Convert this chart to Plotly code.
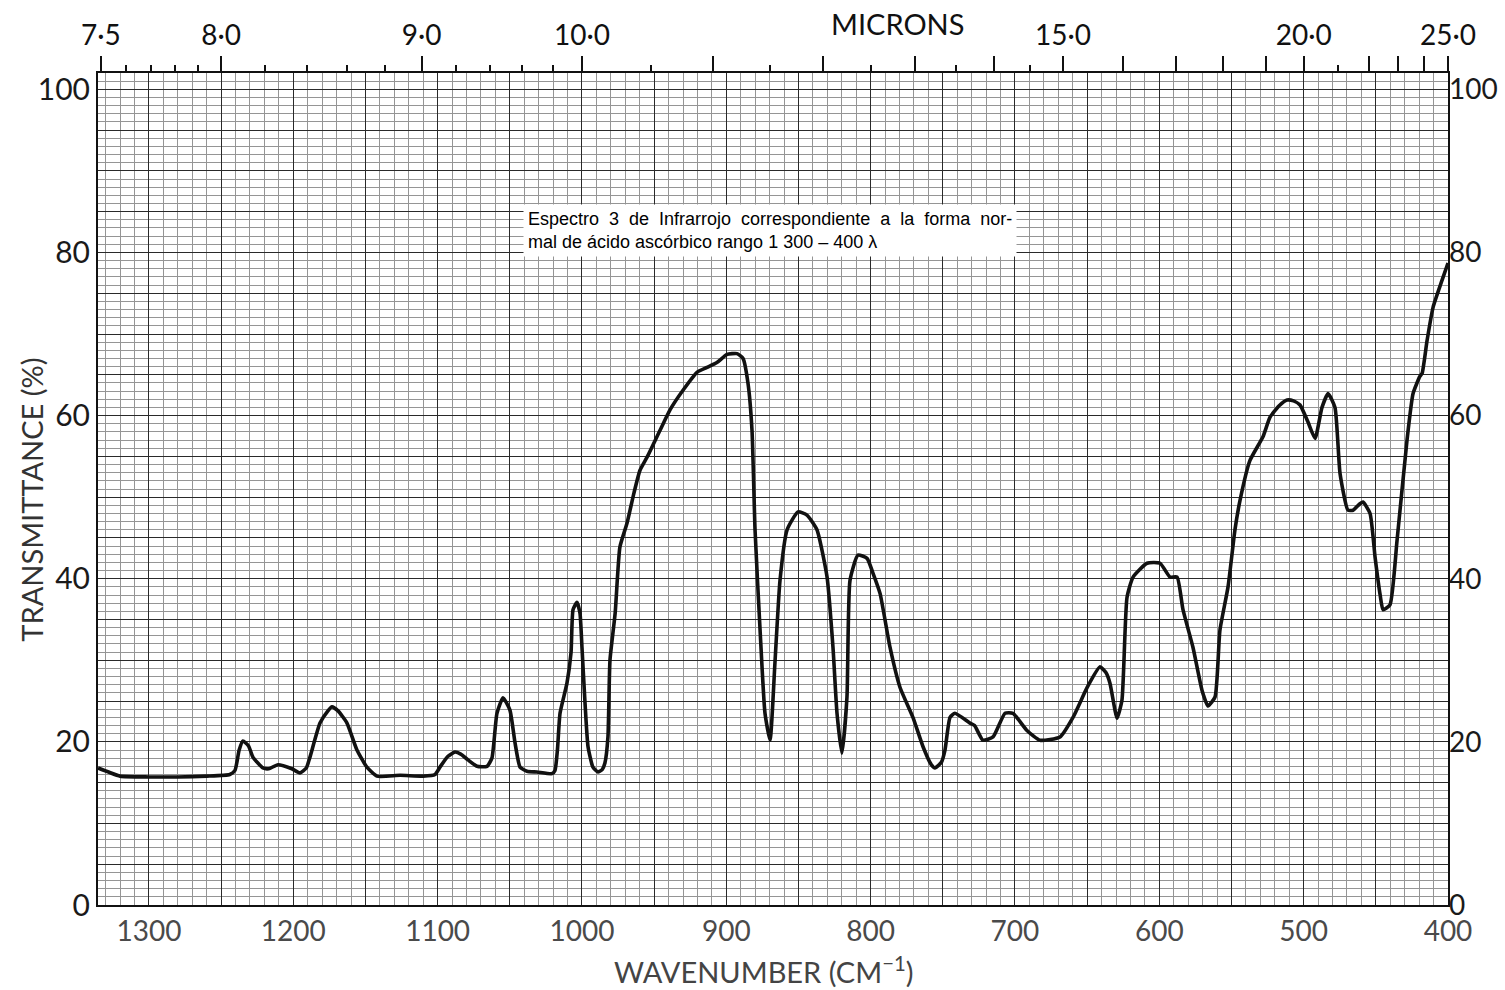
import plotly.graph_objects as go

# ---- data ----
wavenumber = [1335.3, 1328, 1320, 1300, 1280, 1260, 1244, 1240.4, 1237.5, 1234.9, 1231, 1227.9,
              1221, 1217, 1210.6, 1201, 1195.4, 1191, 1188.5, 1181.5, 1176, 1173.2, 1169, 1162.8,
              1155.9, 1149, 1142, 1126, 1110, 1101.8, 1098.4, 1093, 1088, 1084, 1079, 1072.7,
              1065.8, 1062.4, 1058.9, 1054.7, 1049.9, 1046.4, 1042.9, 1038.1, 1031.2, 1020.8,
              1018.7, 1017, 1015.2, 1010.4, 1007.6, 1006.2, 1003.5, 1001.4, 1000, 997.9, 995.8,
              992.4, 988.9, 986, 984.1, 982, 980.6, 977, 973.7, 968.8, 964, 959.8, 954.9, 945.9,
              939, 930, 920.3, 913.4, 906.5, 899.5, 892.6, 888.4, 885, 882.2, 880.1, 876.6, 873.2,
              869.7, 866.3, 862.8, 857.9, 850.3, 844.1, 837.2, 830.2, 826.1, 823.3, 819.9, 816.4,
              814.3, 808.8, 802.5, 798.4, 793.5, 786.6, 779.7, 770.7, 763.7, 758, 755.4, 751,
              748.5, 745, 741.6, 731.2, 728, 722.2, 715.2, 706.9, 701.4, 691.7, 682.7, 668.8,
              659.8, 649.9, 641.1, 637, 634.2, 629.3, 625.9, 622.4, 618.2, 608.5, 599.5, 592.6,
              587.7, 583.6, 576.7, 570.4, 566.3, 561.4, 558.0, 552.4, 547.6, 544.1, 537.2, 528.2,
              523.3, 517, 511.5, 507, 502.5, 497, 492.1, 487.3, 483.1, 478.3, 474.8, 469.3, 465.8,
              461, 458.9, 454, 450.5, 447, 445, 440.2, 435.3, 428.4, 424.2, 419.5, 417.9, 414.5,
              410.3, 404.1, 400]
transmittance = [16.8, 16.3, 15.8, 15.7, 15.7, 15.8, 16.0, 16.5, 19.0, 20.1, 19.5, 18.1,
                 16.8, 16.7, 17.2, 16.7, 16.2, 16.8, 18.1, 22.3, 23.8, 24.3, 23.8, 22.3,
                 19.0, 16.9, 15.8, 15.9, 15.8, 16.0, 16.9, 18.2, 18.75, 18.5, 17.8, 17.0,
                 17.0, 18.0, 23.5, 25.4, 23.9, 19.9, 16.9, 16.4, 16.3, 16.1,
                 16.5, 19.0, 23.5, 27.2, 30.9, 36.2, 37.1, 35.8, 31.6, 24.8, 19.4,
                 16.9, 16.3, 16.6, 17.4, 20.6, 30.0, 35.8, 43.9, 46.8, 50.5, 53.3, 54.9, 58.2,
                 60.7, 63.1, 65.3, 65.9, 66.5, 67.5, 67.6, 67.0, 64.0, 58.2, 46.0, 33.7, 23.5,
                 20.2, 29.7, 39.8, 46.0, 48.2, 47.8, 46.0, 40.2, 31.6, 23.5, 18.6, 25.5,
                 39.8, 42.9, 42.5, 40.7, 38.2, 31.6, 26.7, 23.0, 19.4, 17.2, 16.8, 17.5,
                 19.0, 23.0, 23.5, 22.3, 22.0, 20.2, 20.6, 23.5, 23.5, 21.4, 20.2, 20.6,
                 23.0, 26.7, 29.2, 28.5, 27.2, 22.9, 25.1, 37.7, 40.2, 41.9, 41.9, 40.2,
                 40.2, 36.2, 31.6, 26.3, 24.4, 25.5, 33.7, 39.0, 46.0, 49.6, 54.5, 57.4,
                 59.8, 61.2, 61.9, 61.8, 61.3, 59.2, 57.2, 61.0, 62.7, 61.0, 52.9, 48.4, 48.4,
                 49.2, 49.4, 48.0, 42.6, 38.0, 36.2, 36.8, 44.7, 57.0, 62.7, 64.8, 65.2, 69.2,
                 73.3, 76.6, 78.7]

x_range = [1335.3, 400]
y_range = [0, 102]
right_y_ticks = [0, 20, 40, 60, 80, 100]

micron_major = [7.5, 8, 9, 10, 11, 12, 13, 14, 15, 16, 17, 18, 19, 20, 22, 23, 24, 25]
micron_major_text = ["7·5", "8·0", "9·0", "10·0", "", "", "", "", "15·0", "", "", "", "",
                     "20·0", "", "", "", "25·0"]
micron_minor = [7.6, 7.7, 7.8, 7.9, 8.2, 8.4, 8.6, 8.8, 9.2, 9.4, 9.6, 9.8, 10.5, 11.5,
                12.5, 13.5, 14.5, 21]

FONT = "Lato"

fig = go.Figure()
fig.add_trace(go.Scatter(
    x=wavenumber, y=transmittance, mode="lines",
    line=dict(color="#111111", width=3.6, shape="spline", smoothing=0.5),
    showlegend=False, hoverinfo="skip"))
# invisible helper trace so that the micron (top) and right-hand axes are drawn
fig.add_trace(go.Scatter(
    x=x_range, y=y_range, mode="markers", marker=dict(opacity=0, size=1),
    xaxis="x2", yaxis="y2", showlegend=False, hoverinfo="skip"))

fig.update_layout(
    width=1505, height=990,
    margin=dict(l=98, r=57, t=73, b=85),
    paper_bgcolor="white", plot_bgcolor="white",
    xaxis=dict(
        range=x_range, tickmode="linear", tick0=0, dtick=50, ticklabelstep=2,
        showgrid=True, gridcolor="#2a2a2a", gridwidth=1.1,
        minor=dict(tick0=0, dtick=10, showgrid=True, gridcolor="#959595", gridwidth=0.7),
        showline=True, linecolor="#111", linewidth=2, mirror=True,
        ticks="", zeroline=False, automargin=False,
        tickfont=dict(family=FONT, size=28, color="#4a4a4a"),
    ),
    yaxis=dict(
        range=y_range, tickmode="linear", tick0=0, dtick=5, ticklabelstep=4,
        showgrid=True, gridcolor="#2a2a2a", gridwidth=1.1,
        minor=dict(tick0=0, dtick=1, showgrid=True, gridcolor="#959595", gridwidth=0.7),
        showline=True, linecolor="#111", linewidth=2, mirror=True,
        ticks="", zeroline=False, automargin=False,
        tickfont=dict(family=FONT, size=30, color="#1a1a1a"),
    ),
    xaxis2=dict(
        overlaying="x", side="top", anchor="y", range=x_range,
        tickmode="array", tickvals=[10000 / m for m in micron_major], ticktext=micron_major_text,
        ticks="outside", ticklen=16, tickwidth=1.6, tickcolor="#111",
        minor=dict(tickmode="array", tickvals=[10000 / m for m in micron_minor],
                   ticks="outside", ticklen=7, tickwidth=1.6, tickcolor="#111"),
        showgrid=False, zeroline=False, showline=False, automargin=False,
        tickfont=dict(family=FONT, size=28, color="#111"),
    ),
    yaxis2=dict(
        overlaying="y", side="right", anchor="x", range=y_range,
        tickmode="array", tickvals=right_y_ticks,
        showgrid=False, zeroline=False, showline=False, ticks="", automargin=False,
        tickfont=dict(family=FONT, size=28, color="#1a1a1a"),
    ),
    annotations=[
        dict(text="MICRONS", xref="paper", yref="paper", x=0.592, y=1.059,
             xanchor="center", yanchor="middle", showarrow=False,
             font=dict(family=FONT, size=29, color="#111")),
        dict(text="TRANSMITTANCE (%)", xref="paper", yref="paper", x=-0.049, y=0.487,
             textangle=-90, xanchor="center", yanchor="middle", showarrow=False,
             font=dict(family=FONT, size=29, color="#333")),
        dict(text="WAVENUMBER (CM<sup>−1</sup>)", xref="paper", yref="paper", x=0.4926, y=-0.078,
             xanchor="center", yanchor="middle", showarrow=False,
             font=dict(family=FONT, size=29, color="#444")),
        dict(text="Espectro  3  de  Infrarrojo  correspondiente  a  la  forma  nor-<br>"
                  "mal de ácido ascórbico rango 1 300 – 400 λ",
             xref="paper", yref="paper", x=0.3148, y=0.843,
             xanchor="left", yanchor="top", align="left", showarrow=False,
             bgcolor="white", borderpad=4,
             font=dict(family="Liberation Sans Narrow, Liberation Sans", size=18, color="#000")),
    ],
)

fig.write_html("out.html", config={"displayModeBar": False},
               post_script="document.body.style.margin='0';document.body.style.padding='0';")
